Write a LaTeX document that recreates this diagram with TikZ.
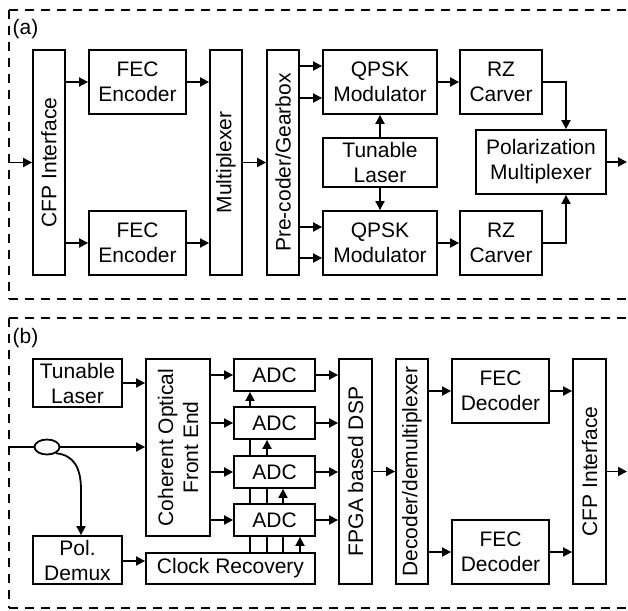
\documentclass[tikz,border=0pt]{standalone}
\usepackage{fontspec}
\setmainfont{Liberation Sans}
\usetikzlibrary{arrows.meta,backgrounds,shapes.geometric,calc}
\begin{document}
\begin{tikzpicture}[x=1pt,y=-1pt,
  every node/.style={font=\fontsize{21}{25}\selectfont},
  blk/.style={draw, line width=1.8pt, fill=white, inner sep=0pt, align=center},
  conn/.style={line width=1.8pt, -{Triangle[length=9pt,width=9pt]}},
  wire/.style={line width=1.8pt},
  frame/.style={line width=1.8pt, dash pattern=on 9pt off 7pt},
]
\useasboundingbox (0,0) rectangle (628,610);
\clip (0,0) rectangle (628,610);

% ---------- frames ----------
\draw[frame] (9,10) -- (640,10);
\draw[frame] (9,10) -- (9,299);
\draw[frame] (9,299) -- (640,299);
\draw[frame] (9,318) -- (640,318);
\draw[frame] (9,318) -- (9,608);
\draw[frame] (9,608) -- (640,608);
\node (la) at (25.5,29) {(a)};
\node (lb) at (25.5,338) {(b)};

% ---------- panel (a) ----------
\node[blk, minimum width=32, minimum height=225,
  label={[rotate=90]center:CFP Interface}] (cfpA) at (49,162.5) {};
\node[blk, minimum width=97, minimum height=64] (fec1) at (137.5,82) {FEC\\Encoder};
\node[blk, minimum width=97, minimum height=64] (fec2) at (137.5,243) {FEC\\Encoder};
\node[blk, minimum width=32, minimum height=225,
  label={[rotate=90]center:Multiplexer}] (mux) at (226,162.5) {};
\node[blk, minimum width=32, minimum height=225,
  label={[rotate=90]center:Pre-coder/Gearbox}] (pre) at (283,162.5) {};
\node[blk, minimum width=114, minimum height=64] (qpsk1) at (380,82) {QPSK\\Modulator};
\node[blk, minimum width=114, minimum height=64] (qpsk2) at (380,243) {QPSK\\Modulator};
\node[blk, minimum width=114, minimum height=49] (laserA) at (380,162.5) {Tunable\\Laser};
\node[blk, minimum width=82, minimum height=64] (rz1) at (501,82) {RZ\\Carver};
\node[blk, minimum width=82, minimum height=64] (rz2) at (501,243) {RZ\\Carver};
\node[blk, minimum width=130, minimum height=64] (pmux) at (541,162) {Polarization\\Multiplexer};

\coordinate (inA) at (9,162.5);
\coordinate (outA) at (627,162);
\draw[conn] (inA) -- (cfpA.west);
\draw[conn] (fec1.west -| cfpA.east) -- (fec1.west);
\draw[conn] (fec2.west -| cfpA.east) -- (fec2.west);
\draw[conn] (fec1.east) -- (fec1.east -| mux.west);
\draw[conn] (fec2.east) -- (fec2.east -| mux.west);
\draw[conn] (mux.east) -- (pre.west);
\draw[conn] ([yshift=16pt]qpsk1.west -| pre.east) -- ([yshift=16pt]qpsk1.west);
\draw[conn] ([yshift=-16pt]qpsk1.west -| pre.east) -- ([yshift=-16pt]qpsk1.west);
\draw[conn] ([yshift=16pt]qpsk2.west -| pre.east) -- ([yshift=16pt]qpsk2.west);
\draw[conn] ([yshift=-15pt]qpsk2.west -| pre.east) -- ([yshift=-15pt]qpsk2.west);
\draw[conn] (qpsk1.east) -- (rz1.west);
\draw[conn] (qpsk2.east) -- (rz2.west);
\draw[conn] (laserA.north) -- (qpsk1.south);
\draw[conn] (laserA.south) -- (qpsk2.north);
\draw[conn] (rz1.east) -| ([xshift=25pt]pmux.north);
\draw[conn] (rz2.east) -| ([xshift=25pt]pmux.south);
\draw[conn] (pmux.east) -- (outA);

% ---------- panel (b) ----------
\node[blk, minimum width=89, minimum height=48] (laserB) at (77.5,383) {Tunable\\Laser};
\node[blk, minimum width=64, minimum height=177,
  label={[rotate=90,align=center]center:Coherent Optical\\Front End}] (cofe) at (178,447.5) {};
\node[blk, minimum width=81, minimum height=32] (adc1) at (274.5,375) {ADC};
\node[blk, minimum width=81, minimum height=32] (adc2) at (274.5,423) {ADC};
\node[blk, minimum width=81, minimum height=32] (adc3) at (274.5,472) {ADC};
\node[blk, minimum width=81, minimum height=32] (adc4) at (274.5,520) {ADC};
\node[blk, minimum width=89, minimum height=48] (demux) at (77.5,560) {Pol.\\Demux};
\node[blk, minimum width=169, minimum height=31] (cr) at (230.5,568.5) {Clock Recovery};
\node[blk, minimum width=33, minimum height=225,
  label={[rotate=90]center:FPGA based DSP}] (fpga) at (355.5,471.5) {};
\node[blk, minimum width=32, minimum height=225,
  label={[rotate=90]center:Decoder/demultiplexer}] (dec) at (412,471.5) {};
\node[blk, minimum width=97, minimum height=64] (fecd1) at (500.5,391) {FEC\\Decoder};
\node[blk, minimum width=97, minimum height=64] (fecd2) at (500.5,552) {FEC\\Decoder};
\node[blk, minimum width=33, minimum height=225,
  label={[rotate=90]center:CFP Interface}] (cfpB) at (589.5,471.5) {};
\node[draw, ellipse, line width=1.8pt, fill=white, minimum width=25, minimum height=15,
  inner sep=0pt] (spl) at (47,447) {};

\coordinate (inB) at (9,447);
\coordinate (outB) at (627,471.5);
\draw[wire] (inB) -- (spl.west);
\draw[conn] (spl.east) -- (spl.east -| cofe.west);
\draw[conn] (spl.-35) .. controls (74,455) and (81,468) .. (81,490) -- ([xshift=3.5pt]demux.north);
\draw[conn] (laserB.east) -- (laserB.east -| cofe.west);
\foreach \a in {adc1,adc2,adc3,adc4}{
  \draw[conn] (\a.west -| cofe.east) -- (\a.west);
  \draw[conn] (\a.east) -- (\a.east -| fpga.west);
}
\draw[conn] (fpga.east) -- (dec.west);
\draw[conn] (fecd1.west -| dec.east) -- (fecd1.west);
\draw[conn] (fecd2.west -| dec.east) -- (fecd2.west);
\draw[conn] (fecd1.east) -- (fecd1.east -| cfpB.west);
\draw[conn] (fecd2.east) -- (fecd2.east -| cfpB.west);
\draw[conn] (cfpB.east) -- (outB);
\draw[conn] ([yshift=-1pt]demux.east) -- ([yshift=-1pt]demux.east -| cr.west);
\begin{scope}[on background layer]
  \draw[conn] ([xshift=19.5pt]cr.north) -- ([xshift=19.5pt]cr.north |- adc1.south);
  \draw[conn] ([xshift=36.5pt]cr.north) -- ([xshift=36.5pt]cr.north |- adc2.south);
  \draw[conn] ([xshift=52.5pt]cr.north) -- ([xshift=52.5pt]cr.north |- adc3.south);
  \draw[conn] ([xshift=69.5pt]cr.north) -- ([xshift=69.5pt]cr.north |- adc4.south);
\end{scope}
\end{tikzpicture}
\end{document}
